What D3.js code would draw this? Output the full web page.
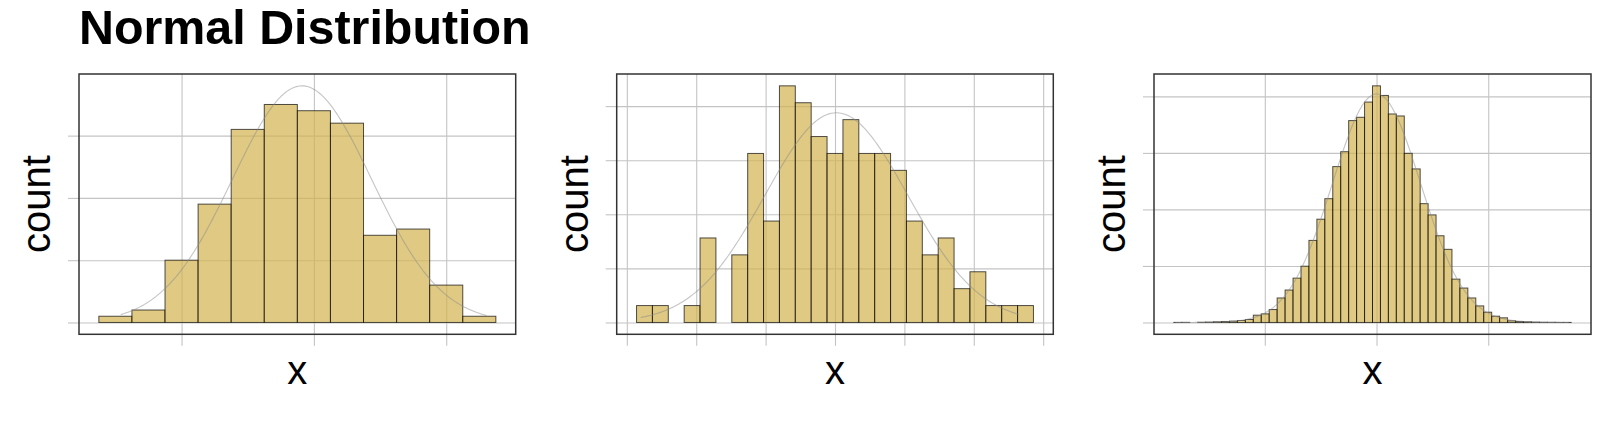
<!DOCTYPE html>
<html>
<head>
<meta charset="utf-8">
<script src="https://cdn.jsdelivr.net/npm/d3@7"></script>
<style>
  html, body { margin: 0; padding: 0; background: #ffffff; }
  svg { display: block; }
  text { font-family: "Liberation Sans", Arial, Helvetica, sans-serif; }
</style>
</head>
<body>
<svg id="chart" width="1600" height="439"></svg>
<script>
// ---------- data ----------
const chartTitle = "Normal Distribution";
const xTitle = "x";
const yTitle = "count";

// Panel 1: n = 200, 12 bins
const p1BinStart = -3.25;
const p1BinWidth = 0.5;
const p1Counts = [1, 2, 10, 19, 31, 35, 34, 32, 14, 15, 6, 1];
const p1XTicks = [-2, 0, 2];
const p1YTicks = [0, 10, 20, 30];

// Panel 2: n = 140, 25 bins
const p2BinStart = -2.86;
const p2BinWidth = 0.2288;
const p2Counts = [1, 1, 0, 1, 5, 0, 4, 10, 6, 14, 13, 11, 10, 12, 10, 10, 9, 6, 4, 5, 2, 3, 1, 1, 1];
const p2XTicks = [-3, -2, -1, 0, 1, 2, 3];
const p2YTicks = [0, 3.2, 6.4, 9.6, 12.8];

// Panel 3: large sample, 50 bins
const p3BinStart = -9.07;
const p3BinWidth = 0.3556;
const p3Counts = [3, 4, 0, 6, 12, 23, 35, 47, 70, 105,
                  258, 304, 457, 867, 1148, 1569, 1991, 2904, 3654, 4380,
                  5515, 6042, 7143, 7260, 7799, 8373, 8033, 7377, 7307, 5984,
                  5433, 4204, 3806, 3068, 2588, 1534, 1218, 867, 586, 363,
                  222, 164, 59, 35, 23, 12, 6, 4, 2, 3];
const p3XTicks = [-5, 0, 5];
const p3YTicks = [0, 2000, 4000, 6000, 8000];

// Fitted normal curves (mean, sd, data range)
const curveMeans = [-0.18, 0.02, 0.0];
const curveSds = [1.05, 1.03, 1.98];
const curveFrom = [-2.92, -2.80, -9.0];
const curveTo = [2.61, 2.65, 8.6];

// ---------- layout ----------
const panels = [
  { left: 79,    right: 515.7,  binStart: p1BinStart, binWidth: p1BinWidth, counts: p1Counts, xTicks: p1XTicks, yTicks: p1YTicks },
  { left: 616.7, right: 1053.3, binStart: p2BinStart, binWidth: p2BinWidth, counts: p2Counts, xTicks: p2XTicks, yTicks: p2YTicks },
  { left: 1154,  right: 1591,   binStart: p3BinStart, binWidth: p3BinWidth, counts: p3Counts, xTicks: p3XTicks, yTicks: p3YTicks }
];
const panelTop = 74, panelBottom = 334.3;

const svg = d3.select("#chart");

svg.append("text")
  .attr("x", 79).attr("y", 43.5)
  .attr("font-size", 48.4).attr("font-weight", "bold")
  .attr("fill", "#000")
  .text(chartTitle);

const gridColor = "#c4c4c4";

panels.forEach((p, i) => {
  const bins = p.counts.map((c, k) => ({
    x0: p.binStart + k * p.binWidth,
    x1: p.binStart + (k + 1) * p.binWidth,
    count: c
  }));
  const n = d3.sum(p.counts);
  const xMin = p.binStart, xMax = p.binStart + p.counts.length * p.binWidth;
  const xPad = (xMax - xMin) * 0.05;
  const x = d3.scaleLinear().domain([xMin - xPad, xMax + xPad]).range([p.left, p.right]);

  const mu = curveMeans[i], sd = curveSds[i];
  const dens = v => n * p.binWidth * Math.exp(-0.5 * ((v - mu) / sd) ** 2) / (sd * Math.sqrt(2 * Math.PI));
  const curvePts = d3.range(0, 201).map(j => {
    const v = curveFrom[i] + (curveTo[i] - curveFrom[i]) * j / 200;
    return [v, dens(v)];
  });
  const yMax = Math.max(d3.max(p.counts), d3.max(curvePts, d => d[1]));
  const y = d3.scaleLinear().domain([-0.05 * yMax, 1.05 * yMax]).range([panelBottom, panelTop]);

  const g = svg.append("g");
  const w = p.right - p.left, h = panelBottom - panelTop;

  // grid lines
  g.append("g")
    .attr("transform", `translate(0,${panelBottom})`)
    .call(d3.axisBottom(x).tickValues(p.xTicks).tickSize(h).tickFormat(""))
    .call(a => a.select(".domain").remove())
    .call(a => a.selectAll(".tick line").attr("y1", -h).attr("y2", 0).attr("stroke", gridColor).attr("stroke-width", 1.1));
  g.append("g")
    .attr("transform", `translate(${p.left},0)`)
    .call(d3.axisLeft(y).tickValues(p.yTicks).tickSize(-w).tickFormat(""))
    .call(a => a.select(".domain").remove())
    .call(a => a.selectAll(".tick line").attr("stroke", gridColor).attr("stroke-width", 1.1));

  // tick marks outside panel
  g.append("g")
    .attr("transform", `translate(0,${panelBottom})`)
    .call(d3.axisBottom(x).tickValues(p.xTicks).tickSize(11.5).tickFormat(""))
    .call(a => a.select(".domain").remove())
    .call(a => a.selectAll(".tick line").attr("stroke", gridColor).attr("stroke-width", 1.1));
  g.append("g")
    .attr("transform", `translate(${p.left},0)`)
    .call(d3.axisLeft(y).tickValues(p.yTicks).tickSize(11).tickFormat(""))
    .call(a => a.select(".domain").remove())
    .call(a => a.selectAll(".tick line").attr("stroke", gridColor).attr("stroke-width", 1.1));

  // bars
  g.append("g").selectAll("rect")
    .data(bins.filter(b => b.count > 0))
    .join("rect")
    .attr("x", b => x(b.x0))
    .attr("width", b => x(b.x1) - x(b.x0))
    .attr("y", b => y(b.count))
    .attr("height", b => Math.max(0, y(0) - y(b.count)))
    .attr("fill", "#d2b24e")
    .attr("fill-opacity", 0.7)
    .attr("stroke", "#000")
    .attr("stroke-opacity", 0.68)
    .attr("stroke-width", 1);

  // normal curve
  g.append("path")
    .datum(curvePts)
    .attr("d", d3.line().x(d => x(d[0])).y(d => y(d[1])))
    .attr("fill", "none")
    .attr("stroke", "#8c8c8c")
    .attr("stroke-opacity", 0.5)
    .attr("stroke-width", 1.1);

  // panel border
  g.append("rect")
    .attr("x", p.left).attr("y", panelTop)
    .attr("width", w).attr("height", h)
    .attr("fill", "none")
    .attr("stroke", "#333")
    .attr("stroke-width", 1.5);

  // axis titles
  g.append("text")
    .attr("transform", `translate(${p.left - 29},${(panelTop + panelBottom) / 2}) rotate(-90)`)
    .attr("text-anchor", "middle")
    .attr("font-size", 40)
    .attr("fill", "#000")
    .text(yTitle);
  g.append("text")
    .attr("x", (p.left + p.right) / 2).attr("y", 384)
    .attr("text-anchor", "middle")
    .attr("font-size", 40)
    .attr("fill", "#000")
    .text(xTitle);
});
</script>
</body>
</html>
